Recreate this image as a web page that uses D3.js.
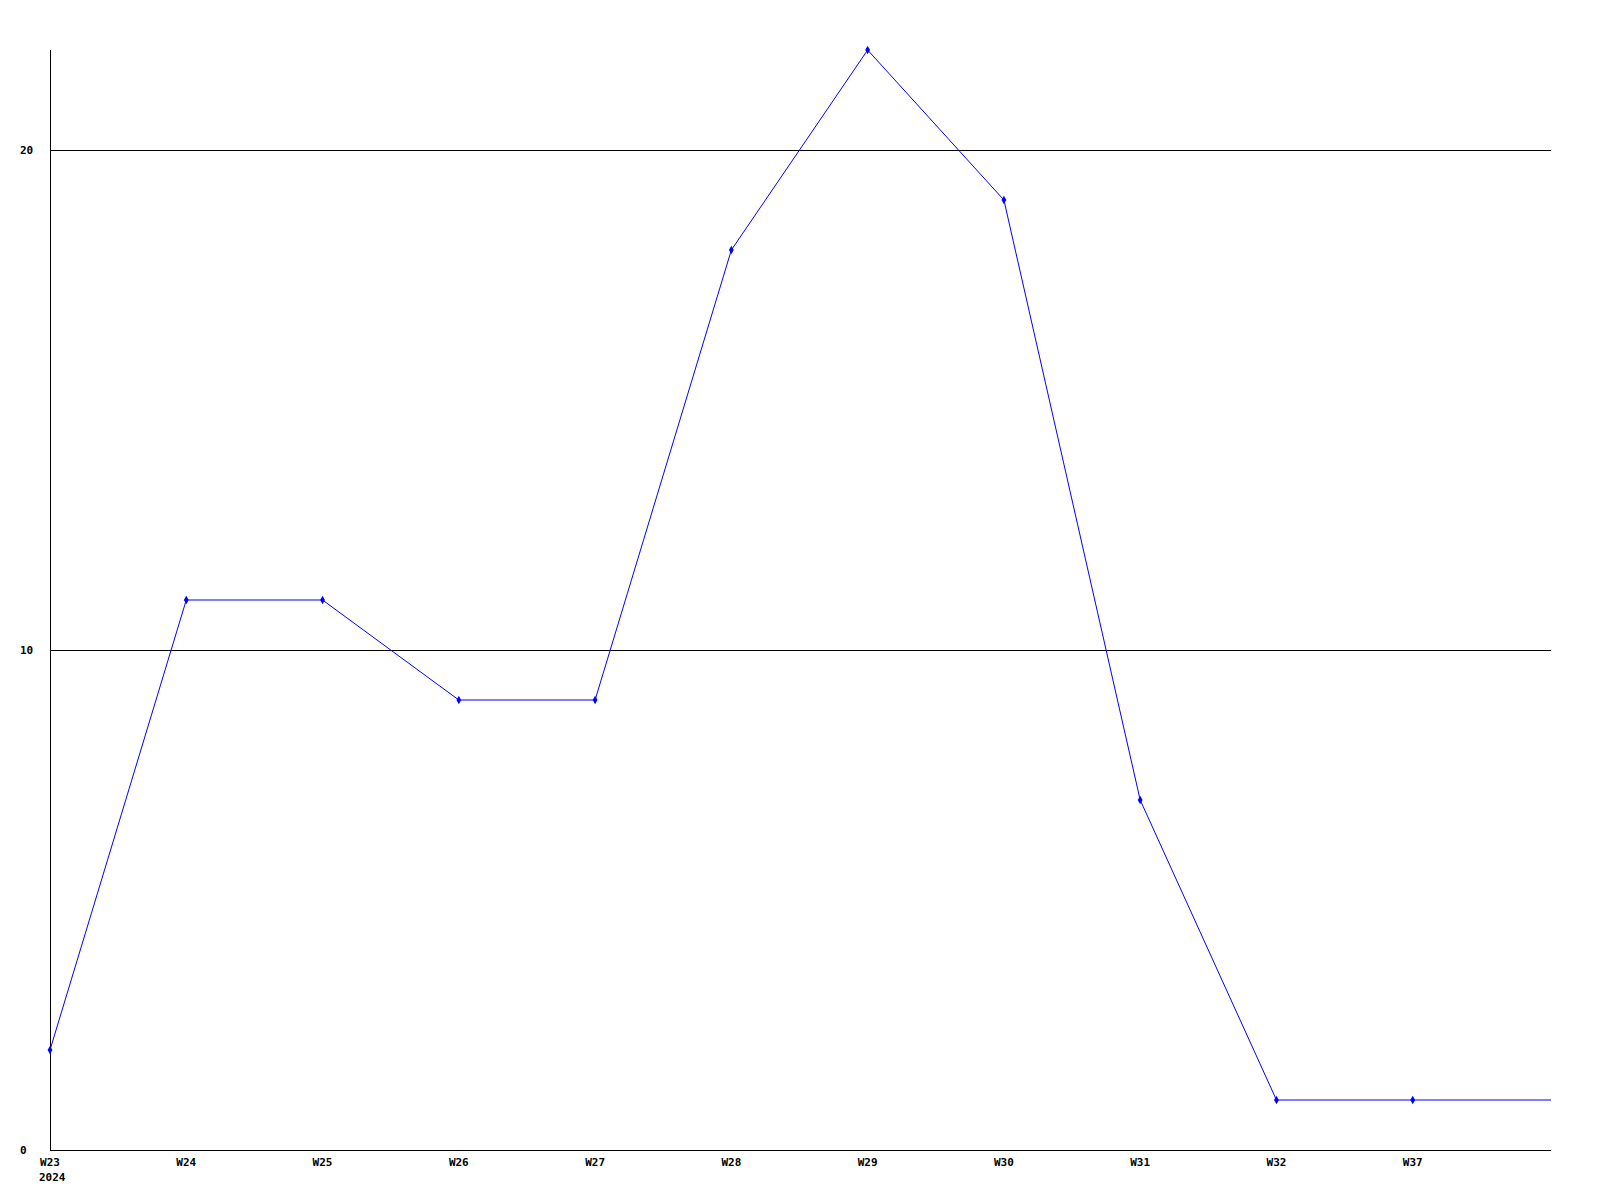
<!DOCTYPE html>
<html>
<head>
<meta charset="utf-8">
<script src="https://cdn.jsdelivr.net/npm/d3@7"></script>
<style>
html, body { margin: 0; padding: 0; background: #fff; }
svg { display: block; }
text { font-family: "DejaVu Sans Mono", "Liberation Mono", monospace; font-weight: bold; font-size: 11px; fill: #000; }
</style>
</head>
<body>
<script>
// Data
const categories = ["W23", "W24", "W25", "W26", "W27", "W28", "W29", "W30", "W31", "W32", "W37"];
const values = [2, 11, 11, 9, 9, 18, 22, 19, 7, 1, 1];
const yearLabel = "2024";
const yTicks = [0, 10, 20];

const W = 1600, H = 1200;
const margin = { left: 50, top: 50, right: 49, bottom: 50 };
const plotRight = W - margin.right;
const plotBottom = H - margin.bottom;

const svg = d3.select("body").append("svg").attr("width", W).attr("height", H);

// x: one slot beyond the last category so the series runs to the right edge
const x = d3.scaleLinear().domain([0, categories.length]).range([margin.left, plotRight - 2]);
const y = d3.scaleLinear().domain([0, 22]).range([plotBottom, margin.top]);

// gridlines
svg.append("g").selectAll("line").data(yTicks.filter(d => d > 0)).join("line")
  .attr("x1", margin.left).attr("x2", plotRight)
  .attr("y1", d => Math.round(y(d)) + 0.5).attr("y2", d => Math.round(y(d)) + 0.5)
  .attr("stroke", "#000").attr("stroke-width", 1).attr("shape-rendering", "crispEdges");

// axes lines
svg.append("line").attr("x1", margin.left + 0.5).attr("x2", margin.left + 0.5)
  .attr("y1", margin.top).attr("y2", plotBottom + 0.5)
  .attr("stroke", "#000").attr("shape-rendering", "crispEdges");
svg.append("line").attr("x1", margin.left).attr("x2", plotRight)
  .attr("y1", plotBottom + 0.5).attr("y2", plotBottom + 0.5)
  .attr("stroke", "#000").attr("shape-rendering", "crispEdges");

// y labels
svg.append("g").selectAll("text").data(yTicks).join("text")
  .attr("x", 20).attr("y", d => y(d)).attr("dy", "0.35em")
  .attr("text-anchor", "start").text(d => d);

// x labels
svg.append("g").selectAll("text").data(categories).join("text")
  .attr("x", (d, i) => x(i)).attr("y", plotBottom + 16)
  .attr("text-anchor", "middle").text(d => d);
svg.append("text").attr("x", x(0) - 11).attr("y", plotBottom + 31)
  .attr("text-anchor", "start").text(yearLabel);

// series line (last value held to the right edge)
const pts = values.map((v, i) => [x(i), y(v)]);
pts.push([plotRight, y(values[values.length - 1])]);
svg.append("path").attr("d", d3.line()(pts))
  .attr("fill", "none").attr("stroke", "#0000ff").attr("stroke-width", 1);

// markers
svg.append("g").selectAll("path").data(values).join("path")
  .attr("transform", (d, i) => `translate(${x(i)},${y(d)})`)
  .attr("d", d3.symbol(d3.symbolDiamond, 20)())
  .attr("fill", "#0000ff");
</script>
</body>
</html>
